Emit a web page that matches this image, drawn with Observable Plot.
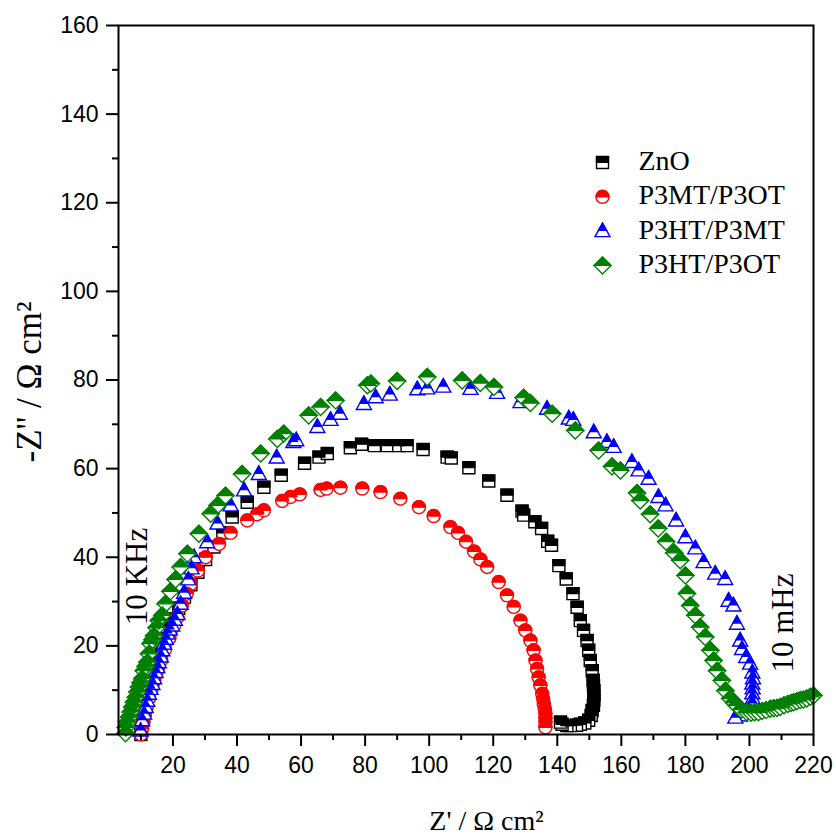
<!DOCTYPE html>
<html><head><meta charset="utf-8">
<script src="https://cdn.jsdelivr.net/npm/d3@7"></script>
<script src="https://cdn.jsdelivr.net/npm/@observablehq/plot@0.6"></script>
<style>body{margin:0;background:#fff}</style>
</head><body><div id="chart"></div>
<script>
const seriesNames = ["ZnO", "P3MT/P3OT", "P3HT/P3MT", "P3HT/P3OT"];
const seriesColors = ["#000000", "#ff0000", "#0000ff", "#008000"];

const znoPoints = [[10.0,0],[10.2,1],[10.5,2.5],[10.9,4],[11.3,5.5],[11.8,7],[12.4,8.8],[13.0,10.5],[13.7,12.3],[14.5,14.2],[15.4,16.2],[16.4,18.3],[17.7,21.6],[19.3,24.2],[20.3,26.1],[21.8,28.5],[23.6,31],[25.6,33.8],[27.8,36.6],[30.2,39.5],[32.8,42.3],[35.6,45.5],[38.5,49.1],[43.2,52.4],[48.4,55.8],[53.8,58.5],[61.1,61.2],[65.6,62.6],[68.2,63.4],[75.4,64.7],[78.9,65.5],[82.9,65.2],[86.9,65.2],[90.5,65.2],[93.1,65.2],[98.1,64.3],[105.6,62.6],[106.9,62.4],[112.4,60.2],[118.6,57.2],[124.3,54.0],[129.0,50.4],[129.5,49.5],[133.0,48.0],[135.1,46.5],[137.0,43.6],[138.2,42.7],[140.5,38.1],[142.8,35.1],[144.9,31.8],[146.2,28.7],[147.2,25.7],[148.2,23.5],[149.3,21.2],[149.8,19.0],[150.3,16.7],[150.9,14.4],[151.2,12.2],[151.3,11.0],[151.4,9.9],[151.4,8.8],[151.4,7.7],[151.3,6.6],[150.9,5.4],[150.6,4.3],[149.8,3.2],[148.6,2.6],[147.2,2.3],[146.0,2.1],[144.1,2.0],[143.0,2.0],[141.5,2.3],[141.0,2.8]];

const p3mtP3otPoints = [[10.0,0],[10.3,1.3],[10.7,2.8],[11.2,4.5],[11.8,6.3],[12.5,8.2],[13.3,10.2],[14.2,12.3],[15.2,14.5],[16.3,16.8],[17.5,19.2],[18.9,21.8],[20.4,24.6],[21.4,26.5],[22.8,29.1],[24.3,31.8],[25.6,34.0],[27.8,37.0],[30.2,40.0],[34.4,43.0],[38.0,45.5],[43.2,48.3],[46.3,49.7],[48.4,50.6],[54.1,52.7],[56.7,53.6],[59.6,54.2],[66.1,55.2],[68.0,55.5],[72.3,55.7],[79.1,55.5],[84.8,54.7],[91.0,53.2],[96.8,51.3],[101.4,49.3],[106.6,46.8],[109.0,45.5],[111.5,43.5],[114.0,41.3],[116.0,39.5],[118.1,37.8],[121.7,34.4],[124.3,31.4],[126.4,28.8],[128.5,25.7],[130.0,23.5],[131.6,21.2],[132.6,19.0],[133.2,16.7],[133.7,14.8],[134.2,12.9],[134.7,11.1],[135.3,9.2],[135.6,8.0],[135.8,6.9],[136.1,5.8],[136.3,4.7],[136.3,3.7],[136.3,2.8],[136.3,1.6]];

const p3htP3mtPoints = [[9.9,0.9],[10.4,3.2],[11.0,4.7],[11.5,6.2],[12.0,7.6],[12.5,9.2],[13.0,10.3],[13.6,11.4],[14.1,12.7],[14.6,14.1],[15.1,15.2],[15.6,16.3],[16.2,17.6],[16.7,19.0],[17.2,20.5],[17.8,21.6],[18.3,22.8],[19.0,23.7],[19.8,24.6],[20.6,25.9],[21.4,27.2],[22.4,29.5],[23.5,32.0],[24.8,35.0],[25.8,37.5],[26.6,40.0],[30.7,43.4],[33.9,47.6],[38.0,51.7],[42.2,55.1],[46.8,58.8],[52.4,62.5],[57.6,66.0],[58.5,66.4],[65.1,69.4],[69.2,71.0],[72.1,72.4],[79.6,74.6],[83.3,76.1],[87.7,76.7],[96.3,77.9],[99.4,78.1],[104.4,78.5],[112.9,78.0],[121.2,77.1],[128.5,75.0],[136.8,73.5],[143.6,71.3],[145.0,71.0],[151.4,68.2],[155.5,66.0],[157.6,64.9],[163.3,61.5],[165.4,59.6],[168.5,57.7],[171.6,53.6],[173.8,51.7],[177.1,48.3],[180.0,44.5],[183.1,42.0],[185.7,38.9],[189.3,36.3],[192.4,35.1],[193.5,30.2],[195.0,29.1],[196.1,25.0],[197.1,21.2],[197.7,19.3],[199.0,17.5],[200.2,16.0],[200.9,14.0],[201.1,12.7],[200.9,11.5],[201.0,10.4],[200.9,9.3],[201.0,8.1],[200.9,7.0],[199.6,5.4],[197.1,4.3],[195.6,3.8]];

const p3htP3otPoints = [[5.2,0.3],[5.3,1.6],[5.8,2.8],[6.3,3.9],[6.8,5.1],[7.3,6.2],[7.8,7.3],[8.4,8.4],[8.9,9.6],[9.4,10.7],[9.9,11.7],[10.4,12.6],[10.9,14.4],[11.5,15.4],[12.0,16.3],[12.5,18.2],[13.0,20.5],[13.6,21.4],[14.1,22.3],[14.9,24.1],[15.6,25.7],[16.7,26.9],[17.7,29.5],[19.2,32.3],[20.8,35.0],[22.4,37.8],[24.5,40.8],[28.1,45.3],[31.8,49.8],[33.9,51.7],[36.4,53.9],[41.6,58.8],[47.4,63.4],[52.6,66.7],[54.6,67.9],[62.4,72.0],[66.1,73.9],[70.8,75.4],[80.7,78.8],[81.8,79.2],[90.0,79.8],[99.4,80.7],[110.3,79.9],[116.0,79.3],[120.2,78.4],[129.5,76.0],[131.6,74.8],[138.4,72.4],[145.6,68.6],[152.9,64.1],[157.1,60.5],[159.7,59.6],[164.9,54.5],[165.9,52.8],[169.0,49.7],[171.5,46.5],[174.0,43.5],[176.5,41.0],[178.4,39.3],[180.0,35.9],[180.5,31.8],[181.5,29.1],[183.1,26.9],[184.6,24.2],[186.2,22.0],[187.8,19.0],[188.8,16.7],[189.9,14.4],[191.4,12.2],[192.5,9.9],[194.0,8.1],[195.2,7.2],[196.1,6.5],[197.5,5.6],[199.2,5.0],[200.5,4.9],[201.6,5.0],[202.8,5.0],[204.0,5.3],[205.2,5.5],[206.5,5.8],[207.6,5.9],[208.6,6.0],[209.6,6.2],[210.8,6.6],[212.0,6.9],[213.0,7.1],[213.8,7.3],[214.8,7.5],[215.9,7.8],[216.9,7.9],[217.9,8.1],[219.0,8.5],[220.0,8.8]];

const xTicks = [20, 40, 60, 80, 100, 120, 140, 160, 180, 200, 220];
const xMinorTicks = [10, 30, 50, 70, 90, 110, 130, 150, 170, 190, 210];
const yTicks = [0, 20, 40, 60, 80, 100, 120, 140, 160];
const yMinorTicks = [10, 30, 50, 70, 90, 110, 130, 150];

const xTitle = "Z' / \u03A9 cm\u00B2";
const yTitle = "-Z'' / \u03A9 cm\u00B2";
const highFreqLabel = "10 KHz";
const lowFreqLabel = "10 mHz";

// half-filled marker shapes (outline + filled top half)
const symSquare = {draw(c){c.moveTo(-6,-6);c.lineTo(6,-6);c.lineTo(6,6);c.lineTo(-6,6);c.closePath();}};
const symSquareTop = {draw(c){c.moveTo(-6,-6);c.lineTo(6,-6);c.lineTo(6,0);c.lineTo(-6,0);c.closePath();}};
const symCircle = {draw(c){c.moveTo(6.5,0);c.arc(0,0,6.5,0,2*Math.PI);c.closePath();}};
const symCircleTop = {draw(c){c.moveTo(-6.5,0);c.arc(0,0,6.5,Math.PI,2*Math.PI);c.closePath();}};
const symTriangle = {draw(c){c.moveTo(0,-8);c.lineTo(7.5,5.5);c.lineTo(-7.5,5.5);c.closePath();}};
const symTriangleTop = {draw(c){const yc=-0.6, hw=7.5*(yc+8)/13.5;c.moveTo(0,-8);c.lineTo(hw,yc);c.lineTo(-hw,yc);c.closePath();}};
const symDiamond = {draw(c){c.moveTo(0,-8.5);c.lineTo(8.5,0);c.lineTo(0,8.5);c.lineTo(-8.5,0);c.closePath();}};
const symDiamondTop = {draw(c){c.moveTo(0,-8.5);c.lineTo(8.5,0);c.lineTo(-8.5,0);c.closePath();}};

const outlineSymbols = [symSquare, symCircle, symTriangle, symDiamond];
const halfSymbols = [symSquareTop, symCircleTop, symTriangleTop, symDiamondTop];
const seriesPoints = [znoPoints, p3mtP3otPoints, p3htP3mtPoints, p3htP3otPoints];

const serif = "'Liberation Serif', 'Times New Roman', serif";
const sans = "'Liberation Sans', Arial, sans-serif";

const marks = [];
seriesPoints.forEach((pts, i) => {
  const data = pts.map(([x, y]) => ({x, y}));
  marks.push(Plot.dot(data, {x: "x", y: "y", symbol: outlineSymbols[i], fill: "white", stroke: seriesColors[i], strokeWidth: 1.4, ariaLabel: `s${i}-outline`}));
  marks.push(Plot.dot(data, {x: "x", y: "y", symbol: halfSymbols[i], fill: seriesColors[i], stroke: seriesColors[i], strokeWidth: 1.2, ariaLabel: `s${i}-half`}));
});

// legend
seriesNames.forEach((name, i) => {
  const dy = 137 + i * 34.3;
  marks.push(Plot.dot([name], {frameAnchor: "top-left", dx: 484, dy, symbol: outlineSymbols[i], fill: "white", stroke: seriesColors[i], strokeWidth: 1.4}));
  marks.push(Plot.dot([name], {frameAnchor: "top-left", dx: 484, dy, symbol: halfSymbols[i], fill: seriesColors[i], stroke: seriesColors[i], strokeWidth: 1.2}));
  marks.push(Plot.text([name], {frameAnchor: "top-left", dx: 520, dy: dy - 1.5, text: d => d, textAnchor: "start", lineAnchor: "middle", fontFamily: serif, fontSize: 28, fill: "black"}));
});

marks.push(
  Plot.text([highFreqLabel], {frameAnchor: "top-left", dx: 19, dy: 551, text: d => d, rotate: -90, textAnchor: "middle", lineAnchor: "middle", fontFamily: serif, fontSize: 31, fill: "black"}),
  Plot.text([lowFreqLabel], {frameAnchor: "top-left", dx: 664.5, dy: 597.5, text: d => d, rotate: -90, textAnchor: "middle", lineAnchor: "middle", fontFamily: serif, fontSize: 31, fill: "black"}),
  Plot.text([xTitle], {frameAnchor: "bottom", dx: 20.5, dy: 87, text: d => d, textAnchor: "middle", lineAnchor: "middle", fontFamily: serif, fontSize: 28, fill: "black"}),
  Plot.text([yTitle], {frameAnchor: "left", dx: -89, dy: 2, text: d => d, rotate: -90, textAnchor: "middle", lineAnchor: "middle", fontFamily: serif, fontSize: 35, fill: "black"}),
  Plot.axisX({ticks: xTicks, tickSize: 12, tickPadding: 10, fontSize: 23, fontFamily: sans, strokeWidth: 2, label: null}),
  Plot.axisX({ticks: xMinorTicks, tickSize: 6, tickFormat: () => "", strokeWidth: 2, label: null}),
  Plot.axisY({ticks: yTicks, tickSize: 12, tickPadding: 8, fontSize: 23, fontFamily: sans, strokeWidth: 2, label: null}),
  Plot.axisY({ticks: yMinorTicks, tickSize: 6, tickFormat: () => "", strokeWidth: 2, label: null}),
  Plot.frame({stroke: "black", strokeWidth: 2})
);

const chart = Plot.plot({
  width: 836,
  height: 838,
  marginLeft: 118,
  marginRight: 23,
  marginTop: 25,
  marginBottom: 104,
  x: {domain: [3, 220], label: null},
  y: {domain: [0, 160], label: null},
  style: {fontFamily: sans, background: "white", color: "black", overflow: "visible"},
  marks
});

// draw each point's outline and half-fill together, in data order
function interleave(svg, a, b) {
  const ga = svg.querySelector(`g[aria-label="${a}"]`);
  const gb = svg.querySelector(`g[aria-label="${b}"]`);
  if (!ga || !gb) return;
  const own = g => {
    const ps = Array.from(g.querySelectorAll("path"));
    for (const p of ps) for (const at of ["fill", "stroke", "stroke-width"])
      if (g.hasAttribute(at) && !p.hasAttribute(at)) p.setAttribute(at, g.getAttribute(at));
    return ps;
  };
  const pa = own(ga), pb = own(gb);
  pa.forEach((p, i) => { if (pb[i]) p.after(pb[i]); });
}
for (let i = 0; i < 4; i++) interleave(chart, `s${i}-outline`, `s${i}-half`);

document.getElementById("chart").appendChild(chart);
</script>
</body></html>
